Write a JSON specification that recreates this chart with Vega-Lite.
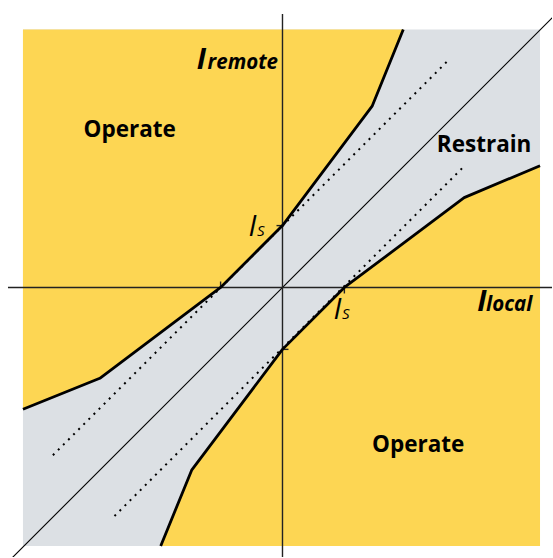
{
  "$schema": "https://vega.github.io/schema/vega-lite/v6.json",
  "width": 553,
  "height": 558,
  "autosize": {"type": "fit", "contains": "padding"},
  "padding": 0,
  "background": "white",
  "config": {"view": {"stroke": null}},
  "datasets": {
    "upper": [
      {"x": -260, "y": -122}, {"x": -183, "y": -91}, {"x": -62, "y": 0},
      {"x": 0, "y": 62}, {"x": 90, "y": 182}, {"x": 121, "y": 258.5}
    ],
    "lower": [
      {"x": -122, "y": -259}, {"x": -91, "y": -183}, {"x": 0, "y": -62},
      {"x": 62, "y": 0}, {"x": 182, "y": 90}, {"x": 258, "y": 122}
    ],
    "dots": [
      {"s": "a", "x": -230, "y": -168}, {"s": "a", "x": 165, "y": 226.5},
      {"s": "b", "x": -168.3, "y": -229}, {"s": "b", "x": 182, "y": 121.5}
    ],
    "rules": [
      {"x": 0, "y": -270, "x2": 0, "y2": 274, "k": "v"},
      {"x": -275, "y": 0, "x2": 270, "y2": 0, "k": "h"},
      {"x": -62, "y": 0, "x2": -62, "y2": 6, "k": "t"},
      {"x": 62, "y": 0, "x2": 62, "y2": -6, "k": "t"},
      {"x": 0, "y": 62, "x2": -6, "y2": 62, "k": "t"},
      {"x": 0, "y": -62, "x2": 6, "y2": -62, "k": "t"}
    ]
  },
  "layer": [
    {
      "data": {"values": [{"x1": -260, "x2": 258, "y1": -259, "y2": 258.5}]},
      "mark": {"type": "rect", "color": "#DCE0E4"},
      "encoding": {
        "x": {"field": "x1", "type": "quantitative", "scale": {"domain": [-283, 270], "nice": false, "zero": false}, "axis": null},
        "x2": {"field": "x2"},
        "y": {"field": "y1", "type": "quantitative", "scale": {"domain": [-270, 288], "nice": false, "zero": false}, "axis": null},
        "y2": {"field": "y2"}
      }
    },
    {
      "data": {"name": "upper"},
      "mark": {"type": "area", "color": "#FDD653", "orient": "vertical"},
      "encoding": {
        "x": {"field": "x", "type": "quantitative"},
        "y": {"field": "y", "type": "quantitative", "stack": null},
        "y2": {"datum": 258.5}
      }
    },
    {
      "data": {"name": "lower"},
      "mark": {"type": "area", "color": "#FDD653", "orient": "vertical"},
      "encoding": {
        "x": {"field": "x", "type": "quantitative"},
        "y": {"field": "y", "type": "quantitative", "stack": null},
        "y2": {"datum": -259}
      }
    },
    {
      "data": {"values": [{"x": -290, "y": -290}, {"x": 290, "y": 290}]},
      "mark": {"type": "line", "color": "black", "strokeWidth": 1.1, "clip": true},
      "encoding": {
        "x": {"field": "x", "type": "quantitative"},
        "y": {"field": "y", "type": "quantitative"}
      }
    },
    {
      "data": {"name": "dots"},
      "mark": {"type": "line", "color": "black", "strokeWidth": 2, "strokeDash": [2, 5.2]},
      "encoding": {
        "x": {"field": "x", "type": "quantitative"},
        "y": {"field": "y", "type": "quantitative"},
        "detail": {"field": "s"}
      }
    },
    {
      "data": {"name": "rules"},
      "mark": {"type": "rule", "color": "#222", "strokeWidth": 1.4},
      "encoding": {
        "x": {"field": "x", "type": "quantitative"},
        "y": {"field": "y", "type": "quantitative"},
        "x2": {"field": "x2"},
        "y2": {"field": "y2"}
      }
    },
    {
      "data": {"name": "upper"},
      "mark": {"type": "line", "color": "black", "strokeWidth": 2.8, "strokeJoin": "round"},
      "encoding": {
        "x": {"field": "x", "type": "quantitative"},
        "y": {"field": "y", "type": "quantitative"}
      }
    },
    {
      "data": {"name": "lower"},
      "mark": {"type": "line", "color": "black", "strokeWidth": 2.8, "strokeJoin": "round"},
      "encoding": {
        "x": {"field": "x", "type": "quantitative"},
        "y": {"field": "y", "type": "quantitative"}
      }
    },
    {
      "data": {"values": [
        {"x": -153, "y": 158, "t": "Operate"},
        {"x": 202, "y": 143, "t": "Restrain"},
        {"x": 136, "y": -158, "t": "Operate"}
      ]},
      "mark": {"type": "text", "font": "Open Sans", "fontWeight": "bold", "fontSize": 22.5, "align": "center", "baseline": "middle", "color": "black"},
      "encoding": {
        "x": {"field": "x", "type": "quantitative"},
        "y": {"field": "y", "type": "quantitative"},
        "text": {"field": "t"}
      }
    },
    {
      "data": {"values": [
        {"x": -86, "y": 219, "t": "I"},
        {"x": 195, "y": -24, "t": "I"}
      ]},
      "mark": {"type": "text", "font": "Open Sans", "fontWeight": "bold", "fontStyle": "italic", "fontSize": 29, "align": "left", "baseline": "alphabetic", "color": "black"},
      "encoding": {
        "x": {"field": "x", "type": "quantitative"},
        "y": {"field": "y", "type": "quantitative"},
        "text": {"field": "t"}
      }
    },
    {
      "data": {"values": [
        {"x": -75, "y": 219, "t": "remote"},
        {"x": 204, "y": -24, "t": "local"}
      ]},
      "mark": {"type": "text", "font": "Open Sans", "fontWeight": "bold", "fontStyle": "italic", "fontSize": 20.5, "align": "left", "baseline": "alphabetic", "color": "black"},
      "encoding": {
        "x": {"field": "x", "type": "quantitative"},
        "y": {"field": "y", "type": "quantitative"},
        "text": {"field": "t"}
      }
    },
    {
      "data": {"values": [
        {"x": -34, "y": 51.5, "t": "I"},
        {"x": 51, "y": -32, "t": "I"}
      ]},
      "mark": {"type": "text", "font": "Open Sans", "fontStyle": "italic", "fontSize": 29, "align": "left", "baseline": "alphabetic", "color": "black"},
      "encoding": {
        "x": {"field": "x", "type": "quantitative"},
        "y": {"field": "y", "type": "quantitative"},
        "text": {"field": "t"}
      }
    },
    {
      "data": {"values": [
        {"x": -25.5, "y": 51.5, "t": "S"},
        {"x": 59.5, "y": -32, "t": "S"}
      ]},
      "mark": {"type": "text", "font": "Open Sans", "fontStyle": "italic", "fontSize": 15, "align": "left", "baseline": "alphabetic", "color": "black"},
      "encoding": {
        "x": {"field": "x", "type": "quantitative"},
        "y": {"field": "y", "type": "quantitative"},
        "text": {"field": "t"}
      }
    }
  ]
}
